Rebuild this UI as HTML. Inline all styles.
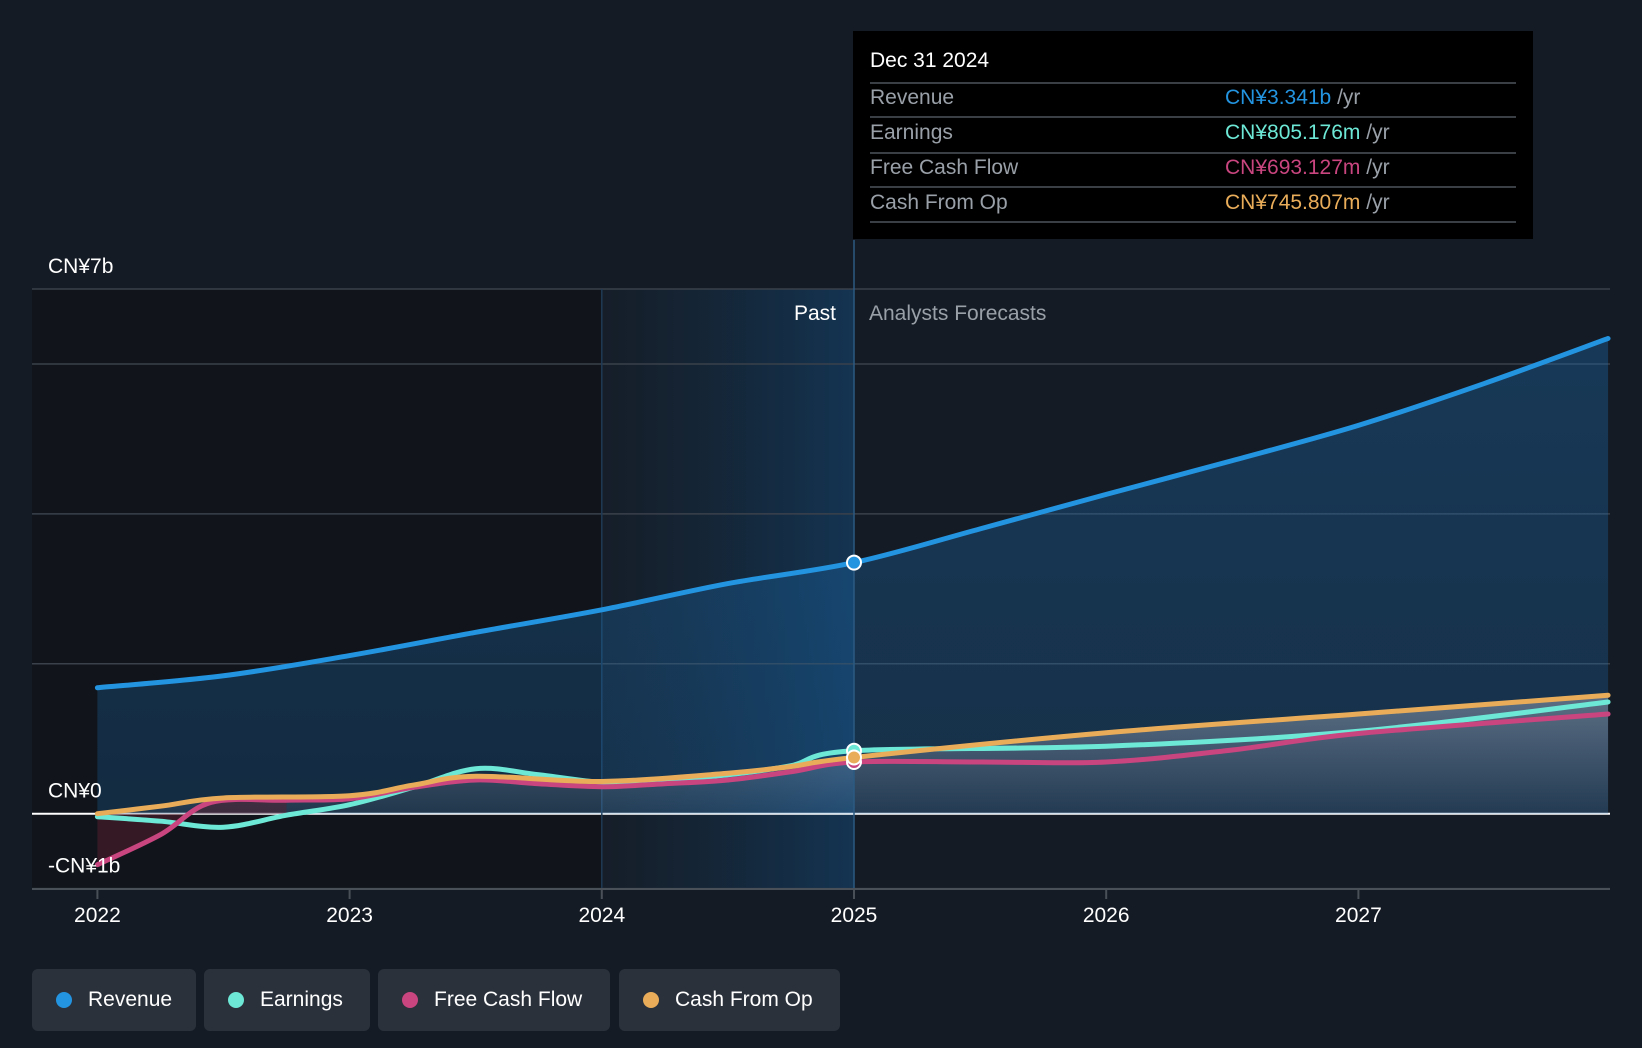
<!DOCTYPE html>
<html><head><meta charset="utf-8"><style>
body{margin:0;background:#151b24;width:1642px;height:1048px;overflow:hidden;font-family:"Liberation Sans",sans-serif}
svg{position:absolute;left:0;top:0}
.lg{position:absolute;top:969px;height:62px;background:#2b313b;border-radius:6px;color:#fff;font-size:21px;line-height:62px;box-sizing:border-box;padding-left:56px}
.lg i{position:absolute;left:24px;top:23px;width:16px;height:16px;border-radius:50%}
</style></head><body>
<svg id="c" width="1642" height="1048">
<defs>
<linearGradient id="pastg" x1="0" x2="1"><stop offset="0" stop-color="#15202c" stop-opacity="0.6"/><stop offset="1" stop-color="#143452"/></linearGradient>
<linearGradient id="revg" x1="0" y1="0" x2="0" y2="1"><stop offset="0" stop-color="#1b6fb5" stop-opacity="0.35"/><stop offset="1" stop-color="#1b6fb5" stop-opacity="0.25"/></linearGradient>
<linearGradient id="lowg" x1="0" y1="0" x2="0" y2="1"><stop offset="0" stop-color="#b0b8c8" stop-opacity="0.45"/><stop offset="1" stop-color="#b0b8c8" stop-opacity="0.08"/></linearGradient>
</defs>
</svg>
<div class="lg" style="left:32px;width:164px"><i style="background:#2394e0"></i>Revenue</div>
<div class="lg" style="left:204px;width:166px"><i style="background:#6de8d6"></i>Earnings</div>
<div class="lg" style="left:378px;width:232px"><i style="background:#c9457f"></i>Free Cash Flow</div>
<div class="lg" style="left:619px;width:221px"><i style="background:#e9ad5a"></i>Cash From Op</div>
<div style="position:absolute;left:853px;top:31px;width:680px;height:208px;background:#000;color:#fff;font-size:21px">
<div style="position:absolute;left:17px;top:18px">Dec 31 2024</div>
<div style="position:absolute;left:17px;right:17px;top:51px;border-top:2px solid #3a3f46"></div>
<div style="position:absolute;left:17px;right:17px;top:85px;border-top:2px solid #3a3f46"></div>
<div style="position:absolute;left:17px;right:17px;top:121px;border-top:2px solid #3a3f46"></div>
<div style="position:absolute;left:17px;right:17px;top:155px;border-top:2px solid #3a3f46"></div>
<div style="position:absolute;left:17px;right:17px;top:190px;border-top:2px solid #3a3f46"></div>
<div style="position:absolute;left:17px;top:55px;color:#9aa0a8">Revenue</div><div style="position:absolute;left:372px;top:55px;color:#2394e0">CN¥3.341b <span style="color:#9aa0a8">/yr</span></div>
<div style="position:absolute;left:17px;top:90px;color:#9aa0a8">Earnings</div><div style="position:absolute;left:372px;top:90px;color:#6de8d6">CN¥805.176m <span style="color:#9aa0a8">/yr</span></div>
<div style="position:absolute;left:17px;top:125px;color:#9aa0a8">Free Cash Flow</div><div style="position:absolute;left:372px;top:125px;color:#c9457f">CN¥693.127m <span style="color:#9aa0a8">/yr</span></div>
<div style="position:absolute;left:17px;top:160px;color:#9aa0a8">Cash From Op</div><div style="position:absolute;left:372px;top:160px;color:#e9ad5a">CN¥745.807m <span style="color:#9aa0a8">/yr</span></div>
</div>
<script>
const revX=[2022,2022.5,2023,2023.5,2024,2024.5,2025,2025.5,2026,2026.5,2027,2027.5,2027.99];
const revV=[1.68,1.84,2.11,2.42,2.72,3.07,3.35,3.8,4.26,4.71,5.18,5.74,6.34];
const earnX=[2022,2022.25,2022.5,2022.75,2023,2023.25,2023.5,2023.75,2024,2024.25,2024.5,2024.75,2025,2026,2027,2027.99];
const earnV=[-0.04,-0.1,-0.18,-0.02,0.12,0.35,0.6,0.52,0.42,0.45,0.52,0.64,0.84,0.9,1.1,1.49];
const fcfX=[2022,2022.25,2022.45,2022.75,2023,2023.25,2023.5,2023.75,2024,2024.25,2024.5,2024.75,2025,2025.5,2026,2026.5,2027,2027.99];
const fcfV=[-0.68,-0.28,0.15,0.18,0.2,0.35,0.45,0.4,0.36,0.4,0.45,0.56,0.69,0.69,0.69,0.85,1.07,1.33];
const cfoX=[2022,2022.25,2022.5,2023,2023.25,2023.5,2024,2024.5,2024.75,2025,2026,2027,2027.99];
const cfoV=[0,0.1,0.21,0.24,0.38,0.5,0.43,0.54,0.63,0.75,1.08,1.33,1.58];
const yTicks=[7,6,4,2,0,-1];
const xTicks=[2022,2023,2024,2025,2026,2027];
const xs=t=>97.4+(t-2022)*252.2;
const ys=v=>813.7-v*74.96;
const svg=document.getElementById('c');
const NS='http://www.w3.org/2000/svg';
function mk(tag,a,name){const e=document.createElementNS(NS,tag);for(const k in a)e.setAttribute(k,a[k]);


svg.appendChild(e);return e;}
function path(X,V){const p=X.map((x,i)=>[xs(x),ys(V[i])]);let d='M'+p[0][0]+','+p[0][1];
for(let i=0;i<p.length-1;i++){const a=p[i-1]||p[i],b=p[i],c=p[i+1],e=p[i+2]||c;
d+=` C${b[0]+(c[0]-a[0])/6},${b[1]+(c[1]-a[1])/6} ${c[0]-(e[0]-b[0])/6},${c[1]-(e[1]-b[1])/6} ${c[0]},${c[1]}`;}return d;}
// backgrounds
mk('rect',{x:32,y:289,width:xs(2024)-32,height:600,fill:'#11151b'},'past-dark-region');
mk('rect',{x:xs(2024),y:289,width:xs(2025)-xs(2024),height:600,fill:'url(#pastg)'},'past-highlight-region');
yTicks.forEach(t=>{mk('line',{x1:32,x2:1610,y1:ys(t),y2:ys(t),stroke:t===0?'#ffffff':'#3a414b','stroke-width':t===0?2:1.5},'gridline');});
mk('line',{x1:xs(2024),x2:xs(2024),y1:289,y2:889,stroke:'#1f3a55','stroke-width':1.5},'divider');
// areas
mk('path',{d:path(revX,revV)+` L${xs(revX[revX.length-1])},${ys(0)} L${xs(2022)},${ys(0)} Z`,fill:'url(#revg)'},'revenue-area');
mk('path',{d:path(cfoX,cfoV)+` L${xs(cfoX[cfoX.length-1])},${ys(0)} L${xs(2022)},${ys(0)} Z`,fill:'url(#lowg)'},'cfo-area');
mk('path',{d:path(fcfX.slice(0,4),fcfV.slice(0,4))+` L${xs(2022.75)},${ys(0)} L${xs(2022)},${ys(0)} Z`,fill:'#5a2030',opacity:0.5},'fcf-negative-area');
mk('line',{x1:xs(2025),x2:xs(2025),y1:240,y2:889,stroke:'#2b5a82','stroke-width':1.5},'now-line');
// lines
[[revX,revV,'#2394e0','revenue-line'],[earnX,earnV,'#6de8d6','earnings-line'],[fcfX,fcfV,'#c9457f','fcf-line'],[cfoX,cfoV,'#e9ad5a','cfo-line']].forEach(s=>{
mk('path',{d:path(s[0],s[1]),fill:'none',stroke:s[2],'stroke-width':5,'stroke-linecap':'round'},s[3]);});
mk('line',{x1:32,x2:1610,y1:889,y2:889,stroke:'#4a5058','stroke-width':2},'x-axis');
xTicks.forEach(t=>{mk('line',{x1:xs(t),x2:xs(t),y1:889,y2:899,stroke:'#4a5058','stroke-width':2},'x-tick');
const tx=mk('text',{x:xs(t),y:922,fill:'#fff','font-size':21,'text-anchor':'middle'},'x-tick-label');tx.textContent=t;});
[[7,'CN¥7b'],[0,'CN¥0'],[-1,'-CN¥1b']].forEach(l=>{const t=mk('text',{x:48,y:ys(l[0])-16,fill:'#fff','font-size':21},'y-tick-label');t.textContent=l[1];});
// markers
[[revV[6],'#2394e0'],[earnV[12],'#6de8d6'],[fcfV[12],'#c9457f'],[cfoV[9],'#e9ad5a']].forEach(m=>{
mk('circle',{cx:xs(2025),cy:ys(m[0]),r:7,fill:m[1],stroke:'#fff','stroke-width':2},'marker');});
let t=mk('text',{x:836,y:320,fill:'#fff','font-size':21,'text-anchor':'end'},'past-label');t.textContent='Past';
t=mk('text',{x:869,y:320,fill:'#9aa0a8','font-size':21},'forecast-label');t.textContent='Analysts Forecasts';
</script>
</body></html>
